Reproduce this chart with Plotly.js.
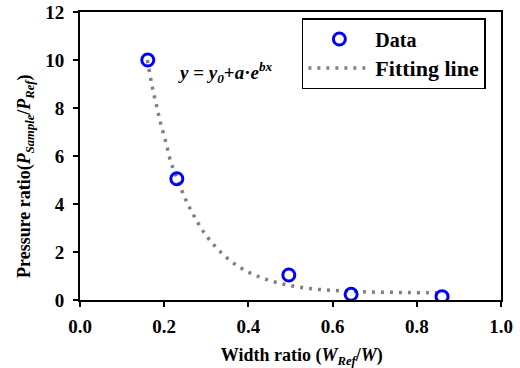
<!DOCTYPE html>
<html>
<head>
<meta charset="utf-8">
<script src="https://cdn.plot.ly/plotly-3.0.1.min.js"></script>
<style>html,body{margin:0;padding:0;background:#fff;}</style>
</head>
<body>
<div id="chart" style="width:520px;height:368px;"></div>
<script>
// Measured data points
const dataX = [0.161, 0.230, 0.496, 0.644, 0.860];
const dataY = [10.0, 5.05, 1.04, 0.24, 0.14];

// Fitting line
const fitX = [0.160, 0.172, 0.182, 0.192, 0.204, 0.215, 0.231, 0.248, 0.269, 0.295, 0.331, 0.376, 0.421, 0.465, 0.510, 0.555, 0.600, 0.646, 0.691, 0.736, 0.781, 0.827, 0.850];
const fitY = [10.0, 8.85, 8.08, 7.33, 6.57, 5.79, 5.05, 4.30, 3.56, 2.80, 2.05, 1.40, 1.00, 0.74, 0.57, 0.46, 0.40, 0.36, 0.33, 0.32, 0.31, 0.30, 0.30];

const xTitle = '<b>&nbsp;&nbsp;&nbsp;&nbsp;&nbsp;Width ratio (<i>W</i><sub><i>Ref</i></sub>/<i>W</i>)</b>';
const yTitle = '<b>Pressure ratio(<i>P</i><sub><i>Sample</i></sub>/<i>P</i><sub><i>Ref</i></sub>)&nbsp;&nbsp;&nbsp;&nbsp;&nbsp;&nbsp;&nbsp;&nbsp;&nbsp;</b>';
const equation = '<b><i>y</i> = <i>y</i><sub><i>0</i></sub>+<i>a</i>·<i>e</i><sup><i>bx</i></sup></b>';
const seriesNames = ['<b>Data</b>', '<b><span style="font-size:22px">Fitting line</span></b>'];

const FONT = 'Liberation Serif';

const traces = [
  {
    x: fitX, y: fitY, type: 'scatter', mode: 'lines', name: seriesNames[1],
    line: {color: '#808080', width: 3.5, dash: '3px,6px', shape: 'spline'},
    legendrank: 2
  },
  {
    x: dataX, y: dataY, type: 'scatter', mode: 'markers', name: seriesNames[0],
    marker: {symbol: 'circle-open', size: 12, color: '#0000FF', line: {width: 3, color: '#0000FF'}},
    legendrank: 1
  }
];

const axisCommon = {
  showline: true, linewidth: 2, linecolor: '#000', mirror: true,
  ticks: 'outside', ticklen: 5, tickwidth: 2, tickcolor: '#000',
  showgrid: false, zeroline: false,
  tickfont: {family: FONT, size: 19, color: '#000'},
  tickprefix: '<b>', ticksuffix: '</b>'
};

const layout = {
  width: 520, height: 368,
  margin: {l: 80, r: 19, t: 12, b: 68},
  paper_bgcolor: '#fff', plot_bgcolor: '#fff',
  font: {family: FONT, color: '#000', size: 18},
  showlegend: true,
  xaxis: Object.assign({}, axisCommon, {
    range: [0, 1], dtick: 0.2, tick0: 0, tickformat: '.1f',
    ticklabelstandoff: 3,
    title: {text: xTitle, font: {family: FONT, size: 18, color: '#000'}, standoff: 13}
  }),
  yaxis: Object.assign({}, axisCommon, {
    range: [0, 12], dtick: 2, tick0: 0,
    ticklabelstandoff: 5,
    title: {text: yTitle, font: {family: FONT, size: 18, color: '#000'}, standoff: 10}
  }),
  legend: {
    x: 0.527, y: 0.979, xanchor: 'left', yanchor: 'top',
    bordercolor: '#000', borderwidth: 1.5, bgcolor: '#fff',
    font: {family: FONT, size: 20, color: '#000'},
    itemwidth: 62
  },
  annotations: [{
    text: equation, xref: 'x', yref: 'y', x: 0.228, y: 9.5,
    xanchor: 'left', yanchor: 'middle', showarrow: false,
    font: {family: FONT, size: 19, color: '#000'}
  }]
};

Plotly.newPlot('chart', traces, layout, {displayModeBar: false, staticPlot: true});
</script>
</body>
</html>
